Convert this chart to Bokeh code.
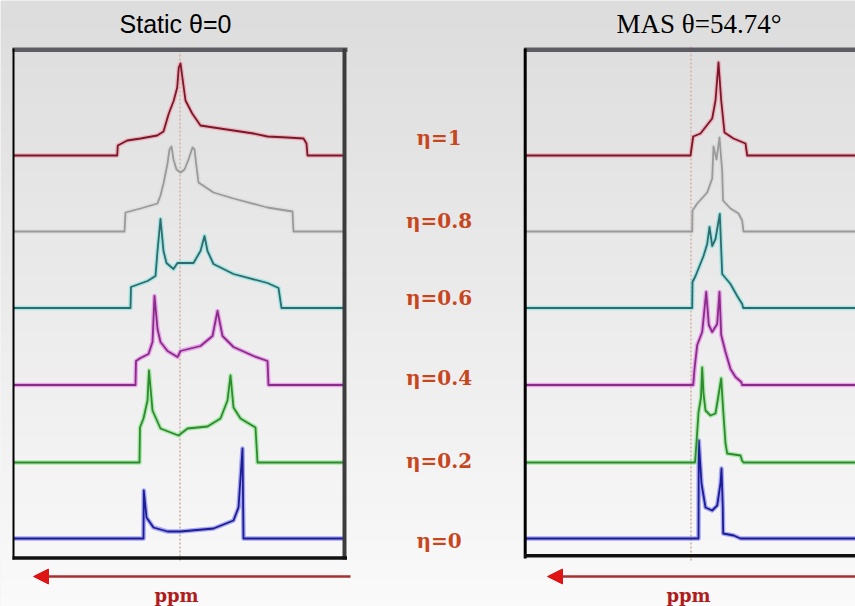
import numpy as np
from bokeh.plotting import figure
from bokeh.models import Range1d, Arrow, NormalHead
from bokeh.core.properties import value
from bokeh.embed import file_html
from bokeh.resources import INLINE

# ---------------- data (x = shift in arbitrary ppm units, + to the left; y = intensity) ----
eta_labels = ["η=0", "η=0.2", "η=0.4", "η=0.6", "η=0.8", "η=1"]
line_colors = ["#1c1c96", "#2e8a2e", "#8a2a8a", "#2f6b6b", "#9a9a9a", "#7d1628"]
halo_colors = ["#5a5aee", "#66e066", "#e060e0", "#60e0e0", "#d4d4d4", "#ec8a9a"]
offsets = [68.0, 144.0, 221.5, 298.5, 375.0, 451.0]
label_y = [66.0, 145.5, 228.5, 308.5, 385.5, 468.5]

# Static, theta = 0
static_x_0 = [36.5, 36.2, 33.5, 26.5, 12.5, -0.5, -33.5, -53.5, -58.5, -62.5, -63.5]
static_y_0 = [0, 48, 21, 11, 7, 7, 10, 18, 31, 90, 0]
static_x_02 = [40.5, 40.0, 36.5, 32.5, 31.0, 27.5, 19.5, 1.5, -7.5, -27.5, -40.5, -47.5, -50.5, -53.5, -60.5, -75.5, -77.5]
static_y_02 = [0, 35, 44, 62, 92, 52, 34, 27, 34, 36, 44, 62, 87, 55, 44, 35, 0]
static_x_04 = [44.5, 44.0, 39.5, 31.5, 27.5, 25.5, 22.5, 19.5, 12.5, 2.5, -0.5, -20.5, -32.5, -37.5, -42.5, -53.5, -73.5, -87.5, -88.5]
static_y_04 = [0, 24, 27, 31, 43, 89, 56, 43, 34, 28, 34, 39, 49, 74, 49, 38, 29, 24, 0]
static_x_06 = [49.5, 49.0, 32.5, 24.5, 22.5, 19.5, 16.5, 13.5, 6.5, 2.5, -13.5, -20.5, -24.5, -27.5, -33.5, -53.5, -87.5, -98.5, -101.5]
static_y_06 = [0, 21, 27, 32, 57, 89, 57, 45, 39, 45, 45, 57, 72, 57, 44, 34, 25, 20, 0]
static_x_08 = [55.5, 54.5, 39.5, 22.5, 19.5, 16.5, 12.5, 10.5, 8.5, 6.5, 3.5, -0.5, -4.5, -8.5, -12.5, -14.5, -16.5, -18.5, -33.5, -53.5, -87.5, -112.5, -113.5]
static_y_08 = [0, 19, 23, 28, 36, 48, 68, 82, 85, 72, 62, 59, 62, 72, 84, 82, 65, 49, 39, 33, 24, 20, 0]
static_x_1 = [62.8, 62.2, 52.8, 39.5, 22.8, 16.5, 11.2, 6.2, 2.8, 1.2, -0.5, -3.2, -5.5, -12.2, -20.5, -33.5, -53.5, -73.5, -87.5, -107.5, -123.5, -126.5, -127.5]
static_y_1 = [0, 10, 15, 17, 20, 24, 42, 55, 68, 88, 92, 72, 55, 42, 30, 28, 25, 22, 19, 18, 17, 12, 0]

# MAS, theta = 54.74 deg
mas_x_0 = [-7.5, -7.8, -10.5, -14.5, -21.2, -26.2, -29.5, -30.5, -31.8, -32.2, -42.8, -49.5]
mas_y_0 = [0, 98, 55, 31, 28, 33, 55, 70, 31, 5, 3, 0]
mas_x_02 = [-4.0, -5.5, -7.5, -10.0, -11.2, -12.5, -14.5, -19.5, -24.5, -27.8, -30.2, -32.2, -34.5, -36.2, -49.5, -51.0, -52.5]
mas_y_02 = [0, 20, 50, 65, 95, 69, 52, 47, 49, 69, 84, 52, 19, 9, 7, 2, 0]
mas_x_04 = [-2.2, -3.5, -6.2, -11.2, -15.2, -17.8, -21.2, -26.2, -28.5, -30.2, -34.5, -39.5, -44.5, -50.2, -51.2]
mas_y_04 = [0, 16, 40, 53, 93, 60, 53, 61, 93, 50, 33, 16, 8, 3, 0]
mas_x_06 = [-1.2, -1.5, -4.5, -12.5, -16.2, -18.5, -21.2, -24.5, -28.8, -30.2, -31.2, -39.5, -46.2, -51.2, -52.2]
mas_y_06 = [0, 26, 32, 52, 64, 81, 62, 69, 94, 59, 34, 24, 12, 4, 0]
mas_x_08 = [-1.2, -1.5, -6.2, -16.2, -21.2, -22.5, -25.5, -28.5, -31.2, -32.0, -39.5, -47.5, -51.2, -52.5]
mas_y_08 = [0, 21, 28, 39, 53, 85, 72, 94, 60, 31, 23, 18, 11, 0]
mas_x_1 = [0.5, -2.2, -9.5, -21.2, -24.5, -27.5, -30.2, -33.5, -42.5, -54.5, -56.2]
mas_y_1 = [0, 19, 22, 37, 55, 93, 55, 23, 17, 12, 0]

static_xs = [static_x_0, static_x_02, static_x_04, static_x_06, static_x_08, static_x_1]
static_ys = [static_y_0, static_y_02, static_y_04, static_y_06, static_y_08, static_y_1]
mas_xs = [mas_x_0, mas_x_02, mas_x_04, mas_x_06, mas_x_08, mas_x_1]
mas_ys = [mas_y_0, mas_y_02, mas_y_04, mas_y_06, mas_y_08, mas_y_1]

W, H = 855, 606

# one canvas; each panel has its own (reversed) ppm scale
p = figure(width=W, height=H, x_range=Range1d(179.5, 179.5 - W), y_range=Range1d(0, H),
           x_axis_type=None, y_axis_type=None, toolbar_location=None,
           output_backend="svg", outline_line_color=None,
           min_border_left=0, min_border_right=0, min_border_top=0, min_border_bottom=0,
           background_fill_color="#eeeeee", border_fill_color="#eeeeee")
p.extra_x_ranges = {"mas": Range1d(690.5, 690.5 - W)}
p.grid.visible = False

# soft vertical background gradient
n = 64
shade = np.linspace(250, 221, n).astype(np.uint8)
img = np.zeros((n, 1), dtype=np.uint32)
view = img.view(dtype=np.uint8).reshape((n, 1, 4))
view[:, 0, 0] = shade
view[:, 0, 1] = shade
view[:, 0, 2] = shade
view[:, 0, 3] = 255
p.image_rgba(image=[img], x=179.5 - W, y=0, dw=W, dh=H, level="image")


def draw_traces(xs_list, ys_list, x_left, x_right, rname="default"):
    for k in range(6):
        xs = [x_left] + list(xs_list[k]) + [x_right]
        ys = [offsets[k] + v for v in [0] + list(ys_list[k]) + [0]]
        p.line(xs, ys, line_color=halo_colors[k], line_width=4.5, line_alpha=0.5,
               line_join="round", x_range_name=rname)
        p.line(xs, ys, line_color=line_colors[k], line_width=1.8,
               line_join="round", x_range_name=rname)


def draw_arrow(x_tail, x_tip, y, rname="default"):
    p.add_layout(Arrow(end=NormalHead(size=15, fill_color="#e01414", line_color="#e01414"),
                       x_start=x_tail, y_start=y, x_end=x_tip, y_end=y,
                       line_color="#a83030", line_width=2.5, x_range_name=rname))


label_font = value("DejaVu Serif")

# ---------------- static panel ----------------
p.line([0, 0], [46, 557], line_color="#d6c0b2", line_width=2, line_dash="2 2")
draw_traces(static_xs, static_ys, 166.5, -164.5)
p.line([167.5, -167.5], [556.8, 556.8], line_color="#5c5c62", line_width=4.5)
p.line([-164.5, -164.5], [47, 558], line_color="#3c3c3c", line_width=4)
p.line([166.5, 166.5], [47, 558], line_color="#000000", line_width=2)
p.line([167.5, -167], [48.5, 48.5], line_color="#111111", line_width=3.5)
p.text(x=[4.5], y=[583], text=["Static θ=0"], text_font=value("Liberation Sans"),
       text_font_size=value("25px"), text_color="#000000",
       text_align="center", text_baseline="middle")
p.text(x=[-259] * 6, y=label_y, text=eta_labels, text_font=label_font,
       text_font_size=value("20px"), text_font_style="bold", text_color="#c8461e",
       text_align="center", text_baseline="middle")
draw_arrow(-170.5, 146.5, 30)
p.text(x=[3.5], y=[11], text=["ppm"], text_font=label_font,
       text_font_size=value("18px"), text_font_style="bold", text_color="#b01c1c",
       text_align="center", text_baseline="alphabetic")

# ---------------- MAS panel ----------------
p.line([0, 0], [46, 562], line_color="#d6c0b2", line_width=2, line_dash="2 2", x_range_name="mas")
draw_traces(mas_xs, mas_ys, 165.8, -170, "mas")
p.line([167, -170], [556.8, 556.8], line_color="#5c5c62", line_width=4.5, x_range_name="mas")
p.line([165.8, 165.8], [48, 558], line_color="#000000", line_width=3, x_range_name="mas")
p.line([167, -170], [50.7, 50.7], line_color="#111111", line_width=3.5, x_range_name="mas")
p.text(x=[-8], y=[583], text=["MAS θ=54.74°"], text_font=value("Liberation Serif"),
       text_font_size=value("27px"), text_color="#000000",
       text_align="center", text_baseline="middle", x_range_name="mas")
draw_arrow(-170, 143.5, 30, "mas")
p.text(x=[2.5], y=[11], text=["ppm"], text_font=label_font,
       text_font_size=value("18px"), text_font_style="bold", text_color="#b01c1c",
       text_align="center", text_baseline="alphabetic", x_range_name="mas")

open("out.html", "w").write(file_html(p, INLINE))
